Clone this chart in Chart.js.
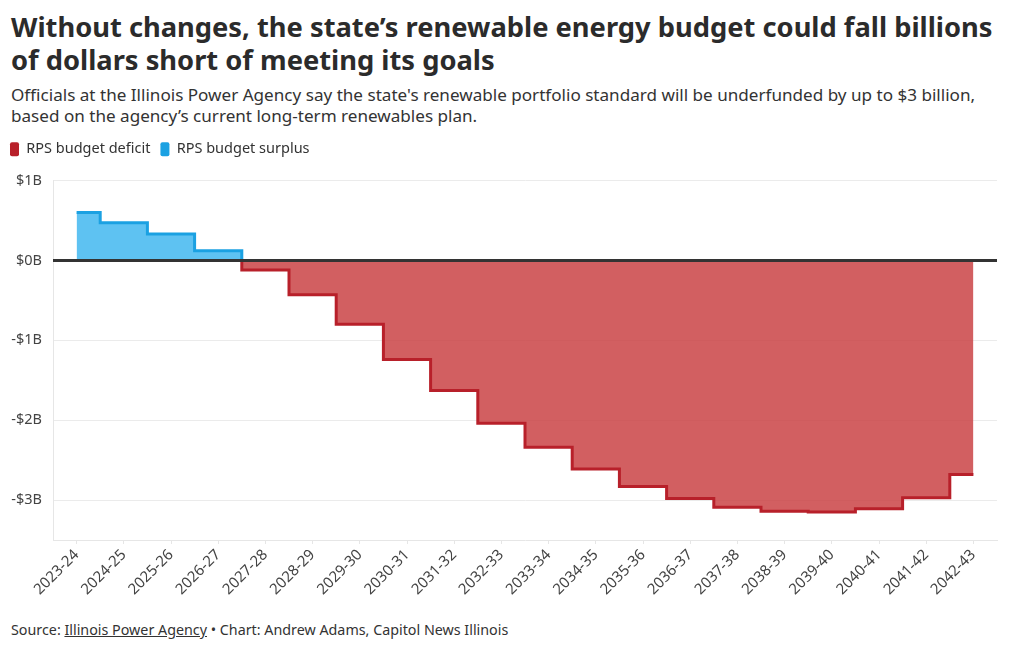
<!DOCTYPE html>
<html>
<head>
<meta charset="utf-8">
<script src="https://cdn.jsdelivr.net/npm/chart.js@4.4.1/dist/chart.umd.min.js"></script>
<style>
  html, body { margin: 0; padding: 0; background: #fff; }
  body { width: 1020px; height: 650px; position: relative; overflow: hidden; font-family: "Noto Sans", "Open Sans", sans-serif; color: #333; }
  #title { position: absolute; left: 11px; top: 10px; font-size: 27.3px; font-weight: 700; line-height: 33px; color: #2b2b2b; }
  #sub { position: absolute; left: 11px; top: 84px; font-size: 17.1px; line-height: 21px; color: #333; }
  #foot { position: absolute; left: 11px; top: 620px; font-size: 14.3px; color: #333; }
  #foot u { text-decoration: underline; }
  #wrap { position: absolute; left: 0; top: 132px; width: 1020px; height: 470px; }
</style>
</head>
<body>
<div id="title">Without changes, the state’s renewable energy budget could fall billions<br>of dollars short of meeting its goals</div>
<div id="sub">Officials at the Illinois Power Agency say the state's renewable portfolio standard will be underfunded by up to $3 billion,<br>based on the agency’s current long-term renewables plan.</div>
<div id="wrap"><canvas id="c" width="1020" height="470"></canvas></div>
<div id="foot">Source: <u>Illinois Power Agency</u> • Chart: Andrew Adams, Capitol News Illinois</div>
<script>
const years = ["2023-24","2024-25","2025-26","2026-27","2027-28","2028-29","2029-30","2030-31","2031-32","2032-33","2033-34","2034-35","2035-36","2036-37","2037-38","2038-39","2039-40","2040-41","2041-42","2042-43"];
const surplus = [0.6, 0.47, 0.33, 0.12, 0, null, null, null, null, null, null, null, null, null, null, null, null, null, null, null];
const deficit = [null, null, null, 0, -0.12, -0.43, -0.8, -1.24, -1.63, -2.04, -2.34, -2.61, -2.83, -2.98, -3.09, -3.14, -3.15, -3.11, -2.97, -2.68];
const yTicks = [1, 0, -1, -2, -3];

Chart.defaults.font.family = '"Noto Sans", "Open Sans", sans-serif';
Chart.defaults.color = '#444';

const legendMargin = {
  id: 'legendMargin',
  beforeInit(chart) {
    const orig = chart.legend.fit;
    chart.legend.fit = function () { orig.bind(chart.legend)(); this.height += 14; };
  }
};
const zeroLine = {
  id: 'zeroLine',
  afterDatasetsDraw(chart) {
    const y = chart.scales.y.getPixelForValue(0);
    const a = chart.chartArea;
    const ctx = chart.ctx;
    ctx.save();
    ctx.strokeStyle = '#333';
    ctx.lineWidth = 3;
    ctx.beginPath();
    ctx.moveTo(a.left, y);
    ctx.lineTo(a.right, y);
    ctx.stroke();
    ctx.restore();
  }
};

new Chart(document.getElementById('c'), {
  type: 'line',
  data: {
    labels: years,
    datasets: [
      { label: 'RPS budget deficit', data: deficit, stepped: 'middle', borderColor: '#b8202a', backgroundColor: 'rgba(200,60,62,0.82)', borderWidth: 3, pointRadius: 0, fill: 'origin', spanGaps: false },
      { label: 'RPS budget surplus', data: surplus, stepped: 'middle', borderColor: '#1ba1e2', backgroundColor: 'rgba(66,183,240,0.85)', borderWidth: 3, pointRadius: 0, fill: 'origin', spanGaps: false }
    ]
  },
  options: {
    responsive: false,
    animation: false,
    layout: { padding: { left: 0, right: 23, top: 0, bottom: 0 } },
    plugins: {
      legend: {
        position: 'top', align: 'start',
        labels: {
          boxWidth: 9, boxHeight: 14, padding: 10, color: '#333',
          font: { size: 14.5 }, useBorderRadius: true, borderRadius: 2,
          generateLabels(chart) {
            return chart.data.datasets.map((d, i) => ({
              text: d.label, fillStyle: d.borderColor, strokeStyle: d.borderColor, lineWidth: 0,
              borderRadius: 2, datasetIndex: i, hidden: false, fontColor: '#333'
            }));
          }
        }
      },
      tooltip: { enabled: false }
    },
    scales: {
      x: {
        offset: true,
        grid: { display: true, drawOnChartArea: false, drawTicks: true, tickLength: 4, color: '#e6e6e6' },
        border: { display: true, color: '#e6e6e6', width: 1 },
        ticks: { minRotation: 45, maxRotation: 45, autoSkip: false, font: { size: 15 }, color: '#444', padding: 2 },
        afterFit(s) { s.height = 62; }
      },
      y: {
        min: -3.5, max: 1,
        afterBuildTicks(s) { s.ticks = yTicks.map(v => ({ value: v })); },
        grid: { color: '#ebebeb', drawTicks: false, lineWidth: 1 },
        border: { display: true, color: '#e6e6e6', width: 1 },
        ticks: {
          font: { size: 14.5 }, color: '#444', padding: 11,
          callback(v) { return v === 0 ? '$0B' : (v < 0 ? '-$' + Math.abs(v) + 'B' : '$' + v + 'B'); }
        },
        afterFit(s) { s.width = 53; }
      }
    }
  },
  plugins: [legendMargin, zeroLine]
});
</script>
</body>
</html>
